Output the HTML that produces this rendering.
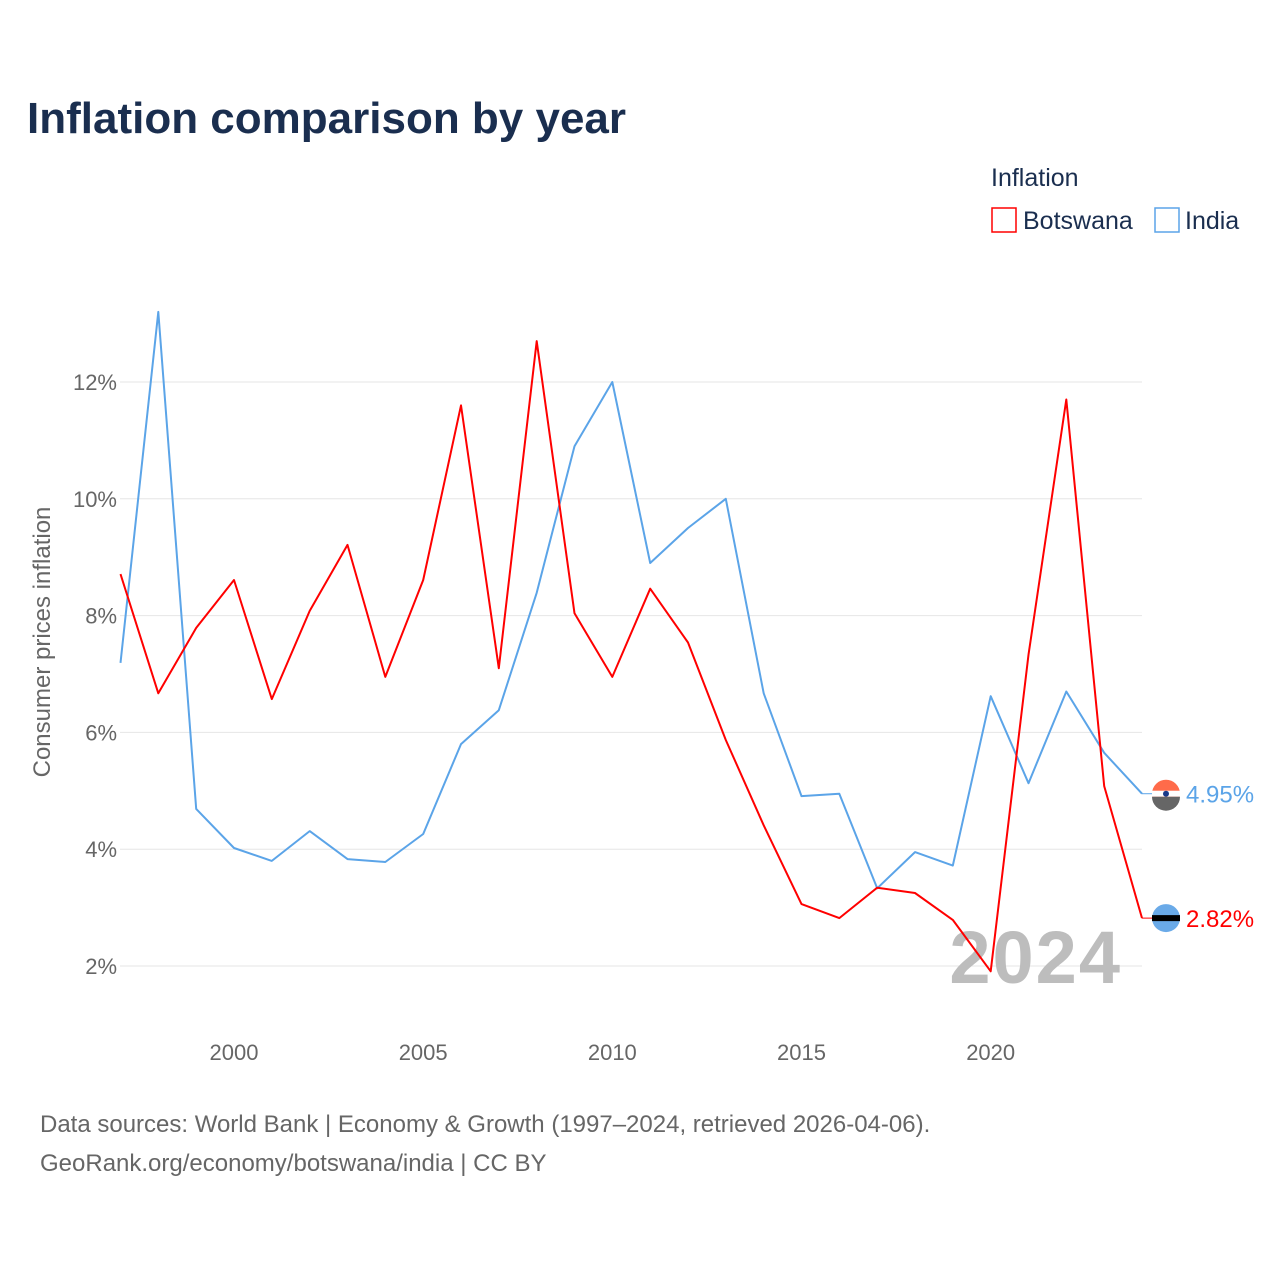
<!DOCTYPE html>
<html><head><meta charset="utf-8"><style>
body{margin:0;background:#fff;font-family:"Liberation Sans",sans-serif}
svg text{font-family:"Liberation Sans",sans-serif}
</style></head><body>
<svg id="chart" width="1280" height="1280" xmlns="http://www.w3.org/2000/svg">
<rect width="1280" height="1280" fill="#fff"/>
<text x="27" y="133" font-size="44" font-weight="bold" fill="#1a2e4f">Inflation comparison by year</text>
<text x="991" y="186" font-size="25" fill="#1a2e4f">Inflation</text>
<g><rect x="992" y="208" width="24" height="24" fill="none" stroke="#f00" stroke-width="1.5"/><text x="1023" y="229" font-size="25" fill="#1a2e4f">Botswana</text></g>
<g><rect x="1155" y="208" width="24" height="24" fill="none" stroke="#5ba4e8" stroke-width="1.5"/><text x="1185" y="229" font-size="25" fill="#1a2e4f">India</text></g>
<g id="grid"></g><g id="axes"></g>
<text x="1122" y="983" font-size="74" font-weight="bold" fill="#bdbdbd" text-anchor="end" letter-spacing="2">2024</text>
<g id="series"></g>
<text transform="translate(50,642) rotate(-90)" font-size="24" fill="#666" text-anchor="middle">Consumer prices inflation</text>
<text x="40" y="1132" font-size="24" fill="#666">Data sources: World Bank | Economy &amp; Growth (1997–2024, retrieved 2026-04-06).</text>
<text x="40" y="1171" font-size="24" fill="#666">GeoRank.org/economy/botswana/india | CC BY</text>
</svg>
<script>
const years=[1997,1998,1999,2000,2001,2002,2003,2004,2005,2006,2007,2008,2009,2010,2011,2012,2013,2014,2015,2016,2017,2018,2019,2020,2021,2022,2023,2024];
const botswana=[8.71,6.67,7.79,8.61,6.57,8.08,9.21,6.95,8.61,11.6,7.1,12.7,8.04,6.95,8.46,7.54,5.87,4.41,3.06,2.82,3.34,3.25,2.79,1.91,7.33,11.7,5.08,2.82];
const india=[7.19,13.2,4.69,4.02,3.80,4.31,3.83,3.78,4.26,5.8,6.38,8.39,10.9,12.0,8.9,9.5,10.0,6.67,4.91,4.95,3.33,3.95,3.72,6.62,5.13,6.7,5.65,4.95];
const yTicks=[2,4,6,8,10,12];
const xTicks=[2000,2005,2010,2015,2020];
const NS="http://www.w3.org/2000/svg";
const xS=y=>120.5+(y-1997)*(1142-120.5)/27;
const yS=v=>966-(v-2)*58.4;
function mk(t,a,p){const e=document.createElementNS(NS,t);for(const k in a)e.setAttribute(k,a[k]);p.appendChild(e);return e;}
const grid=document.getElementById('grid'),axes=document.getElementById('axes'),ser=document.getElementById('series');
yTicks.forEach(v=>{
 const l=mk('line',{x1:120,x2:1142,y1:yS(v),y2:yS(v),stroke:'#e6e6e6','stroke-width':1},grid);
 
 
 const t=mk('text',{x:117,y:yS(v)+8,'font-size':22,fill:'#666','text-anchor':'end'},axes);t.textContent=v+'%';
 
 
});
xTicks.forEach(y=>{
 const t=mk('text',{x:xS(y),y:1060,'font-size':22,fill:'#666','text-anchor':'middle'},axes);t.textContent=y;
 
 
});
function line(vals,color,name){
 const d=vals.map((v,i)=>(i?'L':'M')+xS(years[i]).toFixed(1)+','+yS(v).toFixed(1)).join(' ');
 const p=mk('path',{d:d,fill:'none',stroke:color,'stroke-width':2,'stroke-linejoin':'round'},ser);
 
 
 const last=vals[vals.length-1],ly=yS(last);
 mk('line',{x1:1142,x2:1152,y1:ly,y2:ly,stroke:color,'stroke-width':1},ser);
 const c=mk('circle',{cx:1166,cy:ly,r:14,fill:name==='india'?'#ff6b4a':'#6aaae8'},ser);
 
 
 if(name==='india'){mk('rect',{x:1152,y:ly-3,width:28,height:6,fill:'#fff'},ser);mk('path',{d:`M1152,${ly+3} h28 a14,14 0 0 1 -28,0z`,fill:'#666'},ser);mk('circle',{cx:1166,cy:ly,r:3,fill:'#1a3a8a'},ser);}
 else{mk('rect',{x:1152,y:ly-3,width:28,height:6,fill:'#000'},ser);}
 const t=mk('text',{x:1186,y:ly+9,'font-size':24,fill:color},ser);t.textContent=last.toFixed(2)+'%';
 
 
}
line(india,'#5ba4e8','india');
line(botswana,'#f00','botswana');
</script>
</body></html>
